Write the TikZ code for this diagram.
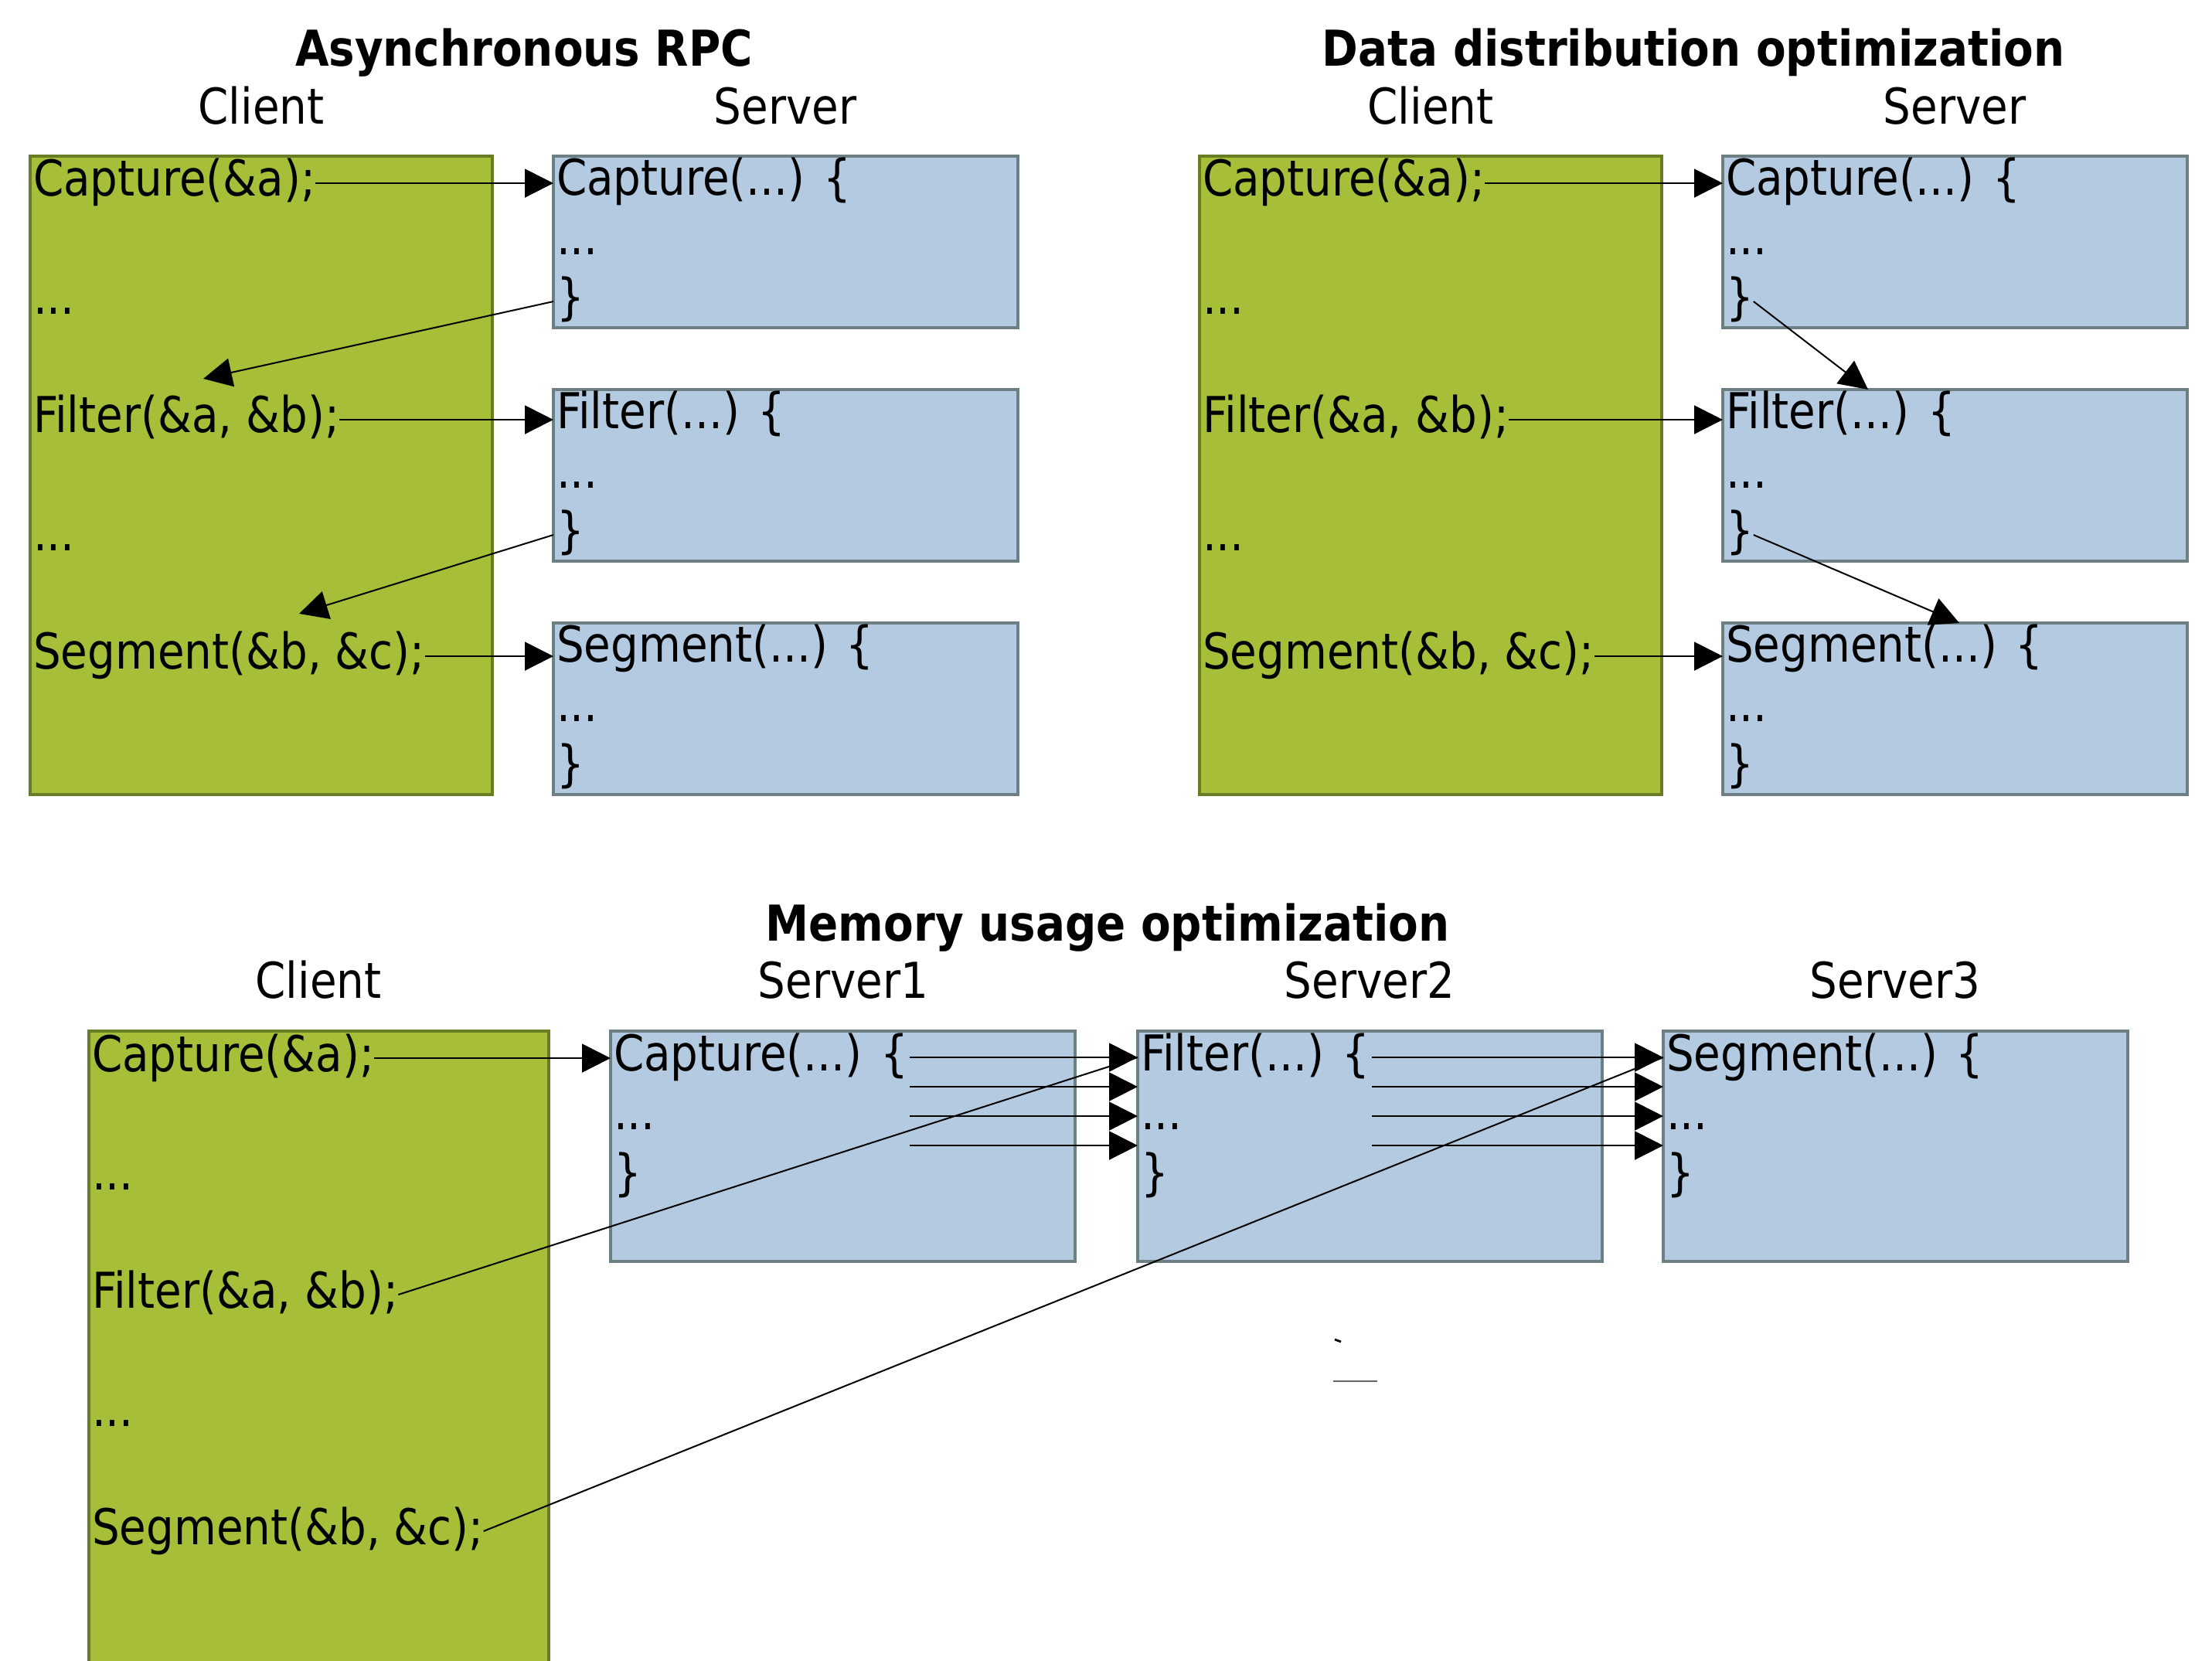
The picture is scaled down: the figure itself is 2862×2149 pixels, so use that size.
\documentclass[tikz,border=0pt]{standalone}
\usepackage{fontspec}
\setmainfont{DejaVu Sans}[FakeStretch=0.88]
\usetikzlibrary{arrows.meta,calc}
\definecolor{cgreen}{RGB}{166,190,56}
\definecolor{cgreenb}{RGB}{104,124,36}
\definecolor{sblue}{RGB}{179,202,225}
\definecolor{sblueb}{RGB}{110,127,131}
\newcommand{\TopPart}[3]{%
\begin{scope}[shift={(#2,0)}]
 \node[ttl] (#1t) at (678,86) {#3};
 \node[lbl] (#1cl) at (338,161) {Client};
 \node[lbl] (#1sl) at (1016,161) {Server};
 \node[cbox, minimum width=149.5pt, minimum height=206.5pt] (#1c) at (39,202) {};
 \node[sbox, minimum width=150.25pt, minimum height=55.5pt] (#1s1) at (716,202) {};
 \node[sbox, minimum width=150.25pt, minimum height=55.5pt] (#1s2) at (716,504) {};
 \node[sbox, minimum width=150.25pt, minimum height=55.5pt] (#1s3) at (716,806) {};
 \node[code] (#1c1) at (43,254) {Capture(\&a);};
 \node[code] (#1c2) at (43,407) {...};
 \node[code] (#1c3) at (43,560) {Filter(\&a, \&b);};
 \node[code] (#1c4) at (43,713) {...};
 \node[code] (#1c5) at (43,866) {Segment(\&b, \&c);};
 \node[code] (#1s1a) at (720,253) {Capture(...) \{};
 \node[code] (#1s1b) at (720,330) {...};
 \node[code] (#1s1c) at (720,407) {\}};
 \node[code] (#1s2a) at (720,555) {Filter(...) \{};
 \node[code] (#1s2b) at (720,632) {...};
 \node[code] (#1s2c) at (720,709) {\}};
 \node[code] (#1s3a) at (720,857) {Segment(...) \{};
 \node[code] (#1s3b) at (720,934) {...};
 \node[code] (#1s3c) at (720,1011) {\}};
\end{scope}}
\begin{document}
\begin{tikzpicture}[x=0.25pt,y=-0.25pt,
  cbox/.style={draw=cgreenb, fill=cgreen, line width=1pt, anchor=north west, inner sep=0pt, outer sep=0pt},
  sbox/.style={draw=sblueb, fill=sblue, line width=1pt, anchor=north west, inner sep=0pt, outer sep=0pt},
  code/.style={anchor=base west, inner sep=0pt, outer sep=0pt, font=\fontsize{16}{19}\selectfont, text height=12.16pt, text depth=3.68pt},
  lbl/.style={anchor=base, inner sep=0pt, font=\fontsize{16}{19}\selectfont},
  ttl/.style={anchor=base, inner sep=0pt, font=\fontsize{16}{19}\selectfont\bfseries},
  arr/.style={line width=0.5pt, -{Triangle[length=9.25pt,width=9.25pt]}},
  ln/.style={line width=0.5pt}]
\useasboundingbox (0,0) rectangle (2862,2149);
\clip (0,0) rectangle (2862,2149);
\fill[white] (0,0) rectangle (2862,2149);

% ---------- Asynchronous RPC ----------
\TopPart{A}{0}{Asynchronous RPC}
\coordinate (At1) at (263,490);
\coordinate (At2) at (387,794);
\draw[arr] (Ac1.east) -- (Ac1.east -| As1.west);
\draw[arr] (Ac3.east) -- (Ac3.east -| As2.west);
\draw[arr] (Ac5.east) -- (Ac5.east -| As3.west);
\draw[arr] (As1c.west -| As1.west) -- (At1);
\draw[arr] (As2c.west -| As2.west) -- (At2);

% ---------- Data distribution optimization ----------
\TopPart{D}{1513}{Data distribution optimization}
\draw[arr] (Dc1.east) -- (Dc1.east -| Ds1.west);
\draw[arr] (Dc3.east) -- (Dc3.east -| Ds2.west);
\draw[arr] (Dc5.east) -- (Dc5.east -| Ds3.west);
\draw[arr] (Ds1c.east) -- ($(Ds2.north west)+(188,0)$);
\draw[arr] (Ds2c.east) -- ($(Ds3.north west)+(306,0)$);

% ---------- Memory usage optimization ----------
\node[ttl] (Mt) at (1433,1218) {Memory usage optimization};
\node[lbl] (Mcl) at (412,1292) {Client};
\node[lbl] (M1l) at (1091,1292) {Server1};
\node[lbl] (M2l) at (1772,1292) {Server2};
\node[lbl] (M3l) at (2452,1292) {Server3};
\node[cbox, minimum width=148.75pt, minimum height=216.5pt] (Mc) at (115,1334) {};
\node[sbox, minimum width=150.25pt, minimum height=74.5pt] (M1) at (790,1334) {};
\node[sbox, minimum width=150.25pt, minimum height=74.5pt] (M2) at (1472,1334) {};
\node[sbox, minimum width=150.25pt, minimum height=74.5pt] (M3) at (2152,1334) {};
\node[code] (Mc1) at (119,1386) {Capture(\&a);};
\node[code] (Mc2) at (119,1539) {...};
\node[code] (Mc3) at (119,1692) {Filter(\&a, \&b);};
\node[code] (Mc4) at (119,1845) {...};
\node[code] (Mc5) at (119,1998) {Segment(\&b, \&c);};
\node[code] (M1a) at (794,1385) {Capture(...) \{};
\node[code] (M1b) at (794,1462) {...};
\node[code] (M1c) at (794,1539) {\}};
\node[code] (M2a) at (1476,1385) {Filter(...) \{};
\node[code] (M2b) at (1476,1462) {...};
\node[code] (M2c) at (1476,1539) {\}};
\node[code] (M3a) at (2156,1385) {Segment(...) \{};
\node[code] (M3b) at (2156,1462) {...};
\node[code] (M3c) at (2156,1539) {\}};

\draw[arr] (Mc1.east) -- (Mc1.east -| M1.west);
\draw[ln] (Mc3.east) -- (M1a.east -| M2.west);
\draw[ln] (Mc5.east) -- (M1a.east -| M3.west);
\foreach \k in {0,1,2,3}{
  \draw[arr] ($(M1a.east)+(2,38*\k)$) -- ($(M1a.east -| M2.west)+(0,38*\k)$);
  \draw[arr] ($(M2a.east)+(2,38*\k)$) -- ($(M1a.east -| M3.west)+(0,38*\k)$);
}

% stray marks
\draw[black!60, line width=0.35pt] (1725,1787) -- (1782,1787);
\draw[line width=0.7pt] (1727,1733) -- (1735,1736);
\end{tikzpicture}
\end{document}
